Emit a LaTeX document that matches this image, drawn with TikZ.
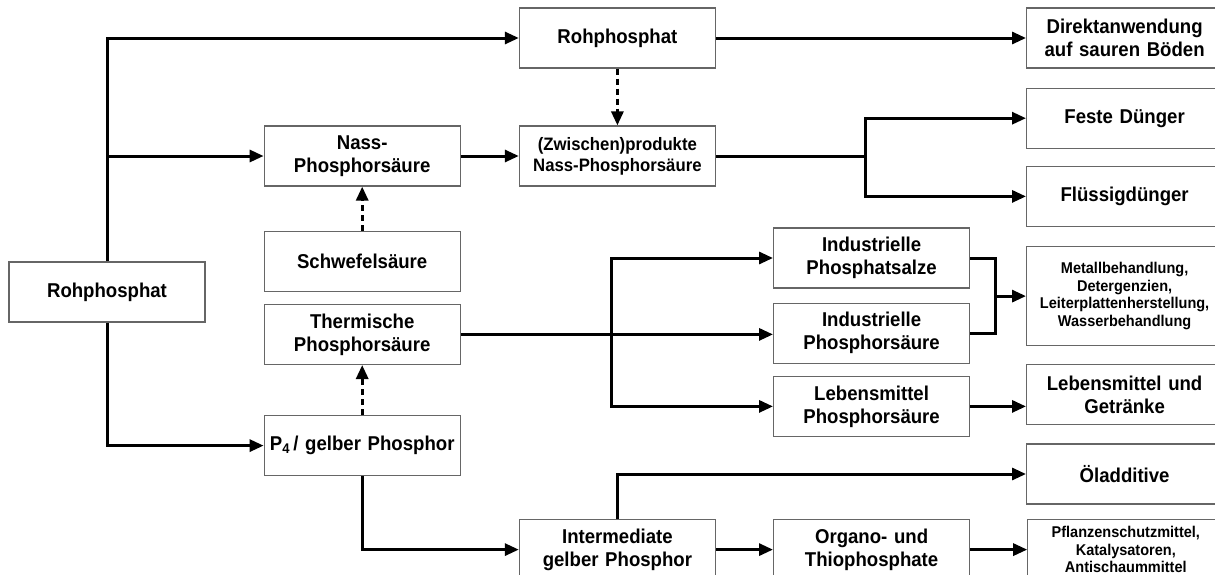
\documentclass[tikz,border=0pt]{standalone}
\usepackage{fontspec}
\setmainfont{Liberation Sans}[FakeStretch=0.93]
\usetikzlibrary{positioning,arrows.meta}
\tikzset{line/.style={draw, line width=3pt, -{Triangle[length=14pt,width=12pt]}}}
\tikzset{dashline/.style={line, dash pattern=on 6pt off 4pt}}
\tikzset{plain/.style={draw, line width=3pt}}

\begin{document}
\begin{tikzpicture}[node distance = 57pt, auto]
\tikzstyle{block} = [rectangle, draw=black!60, line width=1.2pt, text width=190pt, inner sep=3pt, text centered, minimum height=60pt, font=\bfseries\fontsize{20}{23}\selectfont]
\tikzstyle{small} = [font=\bfseries\fontsize{15.6}{17.6}\selectfont]
\useasboundingbox (0,0) rectangle (1215pt,-574pt);

\node [block] at (107pt,-292pt) (rohphosphat){Rohphosphat};
\node [block, right=58pt of rohphosphat, yshift=136pt](nass){Nass-\\Phosphorsäure};
\node [block, below=44pt of nass](schwefel){Schwefelsäure};
\node [block, below=12pt of schwefel](thermisch){Thermische\\Phosphorsäure};
\node [block, below=50pt of thermisch](pvier){P\textsubscript{4}\,/ gelber Phosphor};

\node [block, right=58pt of nass, yshift=118pt](rohtop){Rohphosphat};
\node [block, right=58pt of nass, font=\bfseries\fontsize{18}{21}\selectfont](zwischen){(Zwischen)produkte\\Nass-Phosphorsäure};
\node [block, right=58pt of pvier, yshift=-104pt](intermediate){Intermediate\\gelber Phosphor};

\node [block, right=of zwischen, yshift=-102pt](indsalze){Industrielle\\Phosphatsalze};
\node [block, below=14pt of indsalze](indsaeure){Industrielle\\Phosphorsäure};
\node [block, below=12pt of indsaeure](lebsaeure){Lebensmittel\\Phosphorsäure};
\node [block, right=of intermediate](organo){Organo- und\\Thiophosphate};

\node [block, right=310pt of rohtop](direkt){Direktanwendung\\auf sauren Böden};
\node [block, below=19pt of direkt](feste){Feste Dünger};
\node [block, below=17pt of feste](fluessig){Flüssigdünger};
\node [block, small, below=19pt of fluessig, minimum height=99pt](metall){Metallbehandlung,\\Detergenzien,\\Leiterplattenherstellung,\\Wasserbehandlung};
\node [block, below=18pt of metall](lebensmittel){Lebensmittel und\\Getränke};
\node [block, below=18pt of lebensmittel](oel){Öladditive};
\node [block, small, right=of organo](pflanzen){Pflanzenschutzmittel,\\Katalysatoren,\\Antischaummittel};

\coordinate [right=149pt of zwischen] (gabel1);
\coordinate [right=151pt of thermisch] (gabel2);
\coordinate [left=31pt of metall.west] (knoten);

\path [line] (rohphosphat.north) |- (rohtop.west);
\path [line] (rohphosphat.north |- nass.west) -- (nass.west);
\path [line] (rohphosphat.south) |- (pvier.west);
\path [dashline] (schwefel) -- (nass);
\path [dashline] (pvier) -- (thermisch);
\path [dashline] (rohtop) -- (zwischen);
\path [line] (nass) -- (zwischen);
\path [line] (rohtop) -- (direkt);
\path [plain] (zwischen.east) -- (gabel1);
\path [line] (gabel1) |- (feste.west);
\path [line] (gabel1) |- (fluessig.west);
\path [line] (thermisch.east) -- (thermisch.east -| indsaeure.west);
\path [line] (gabel2) |- (indsalze.west);
\path [line] (gabel2) |- (lebsaeure.west);
\path [plain] (indsalze.east) -| (knoten) |- (indsaeure.east);
\path [line] (knoten) -- (metall.west);
\path [line] (lebsaeure.east) -- (lebsaeure.east -| lebensmittel.west);
\path [line] (pvier.south) |- (intermediate.west);
\path [line] (intermediate.north) |- (oel.west);
\path [line] (intermediate) -- (organo);
\path [line] (organo) -- (pflanzen);

\end{tikzpicture}
\end{document}
